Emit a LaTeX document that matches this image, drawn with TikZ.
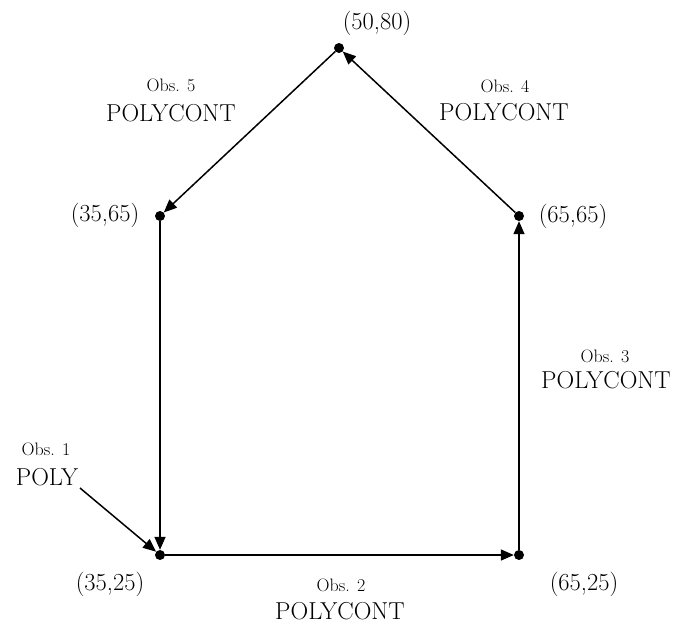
\documentclass[tikz,border=0pt]{standalone}
\usetikzlibrary{arrows.meta}
\begin{document}
\begin{tikzpicture}[x=1pt,y=-1pt,
  pt/.style={circle,fill=black,inner sep=0pt,minimum size=10pt},
  edge/.style={line width=1.5pt,-{Triangle[length=13pt,width=11pt]}},
  big/.style={anchor=base,inner sep=0pt,font=\fontsize{24.5}{29}\selectfont},
  small/.style={anchor=base,inner sep=0pt,font=\fontsize{18}{21}\selectfont}]
\useasboundingbox (0,0) rectangle (679,625);
% vertices
\node[pt] (A) at (160,555) {};
\node[pt] (B) at (519,555) {};
\node[pt] (C) at (519,216) {};
\node[pt] (D) at (339,48) {};
\node[pt] (E) at (160,216) {};
\coordinate (S) at (80,488);
% edges
\draw[edge] (A) -- (B);
\draw[edge] (B) -- (C);
\draw[edge] (C) -- (D);
\draw[edge] (D) -- (E);
\draw[edge] (E) -- (A);
\draw[edge] (S) -- (A);
% coordinate labels
\node[big] (lD) at (377,29) {(50,80)};
\node[big] (lE) at (105,221) {(35,65)};
\node[big] (lC) at (573,222) {(65,65)};
\node[big] (lA) at (110,590) {(35,25)};
\node[big] (lB) at (584,590) {(65,25)};
% observation labels
\node[small] (o1) at (46,455) {Obs. 1};
\node[big] (p1) at (47,485) {POLY};
\node[small] (o2) at (341,591) {Obs. 2};
\node[big] (p2) at (340,619) {POLYCONT};
\node[small] (o3) at (605,362) {Obs. 3};
\node[big] (p3) at (606,388) {POLYCONT};
\node[small] (o4) at (505,92) {Obs. 4};
\node[big] (p4) at (504,120) {POLYCONT};
\node[small] (o5) at (171,91) {Obs. 5};
\node[big] (p5) at (171,121) {POLYCONT};
\end{tikzpicture}
\end{document}
